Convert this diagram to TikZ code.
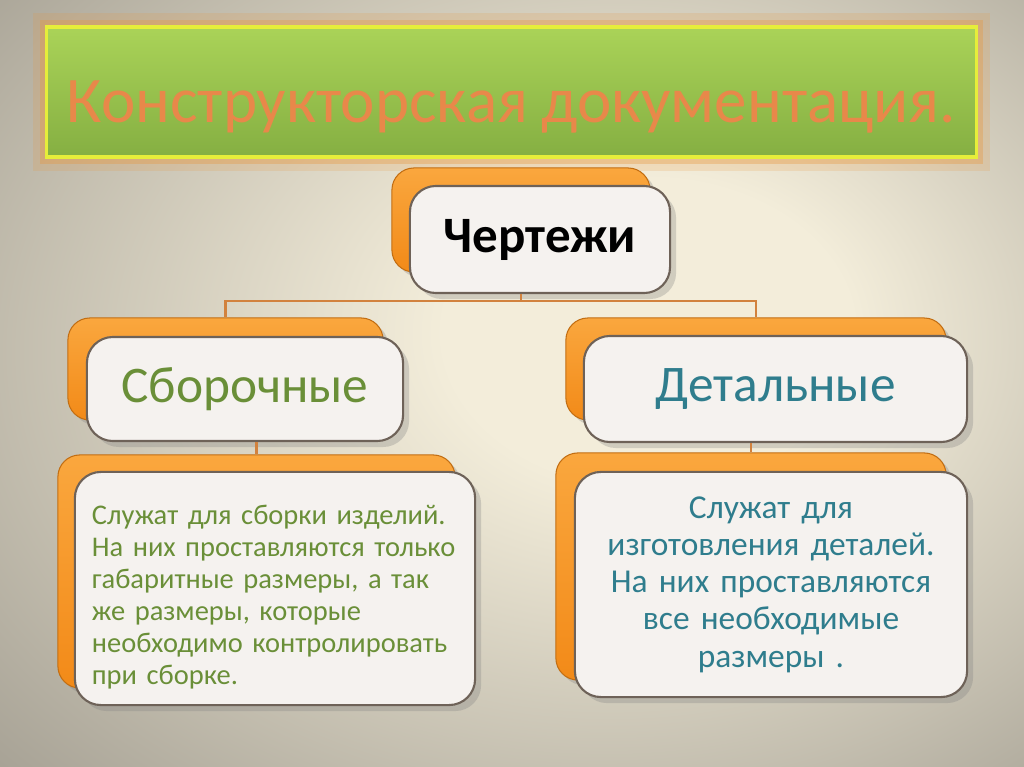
\documentclass[tikz,border=0pt]{standalone}
\usepackage{fontspec}
\setmainfont{Carlito}
\usetikzlibrary{positioning, calc, shadows}

\newcommand\tightsp{\spaceskip=.21em plus .1em minus .05em\relax}

\definecolor{bgin}{HTML}{F3EDDA}
\definecolor{bgout}{HTML}{9E998D}
\definecolor{titletop}{HTML}{AAD358}
\definecolor{titlebot}{HTML}{85AF42}
\definecolor{titleline}{HTML}{E6EE3A}
\definecolor{titleglow}{HTML}{E8963C}
\definecolor{titletext}{HTML}{E8884A}
\definecolor{backtop}{HTML}{FAA73E}
\definecolor{backbot}{HTML}{F28A18}
\definecolor{frontfill}{HTML}{F5F2EF}
\definecolor{frontline}{HTML}{6E6258}
\definecolor{asmgreen}{HTML}{6A8F38}
\definecolor{detteal}{HTML}{2F7D8D}
\definecolor{connline}{HTML}{D2823E}

\pgfdeclareradialshading{bgshade}{\pgfpoint{8bp}{4bp}}{%
  color(0bp)=(bgin); color(10bp)=(bgin); color(28bp)=(bgin!45!bgout);
  color(42bp)=(bgout); color(60bp)=(bgout)}

\tikzset{
  titlebox/.style={draw=titleline, line width=1pt, top color=titletop,
    bottom color=titlebot, inner sep=0pt,
    preaction={draw=titleglow, line width=8pt, opacity=.18},
    preaction={draw=titleglow, line width=4pt, opacity=.35},
    font=\fontsize{18.5}{22}\selectfont\tightsp, text=titletext},
  backbox/.style={rounded corners=2.2mm, top color=backtop, bottom color=backbot,
    draw=backbot!80!black, line width=.3pt, inner sep=0pt,
    drop shadow={shadow xshift=.5mm, shadow yshift=-.5mm, opacity=.3}},
  frontbox/.style={rounded corners=2.6mm, fill=frontfill, draw=frontline,
    line width=.6pt, inner sep=0pt,
    drop shadow={shadow xshift=.6mm, shadow yshift=-.6mm, opacity=.3}},
  conn/.style={draw=connline, line width=.7pt}
}

\begin{document}
\begin{tikzpicture}[x=0.01cm, y=-0.01cm]
  % фон
  \shade[shading=bgshade] (0,0) rectangle (1024,767);
  \useasboundingbox (0,0) rectangle (1024,767);

  % заголовок
  \node[titlebox, minimum width=9.29cm, minimum height=1.30cm] (title) at (511.5,92)
    {\raisebox{-3mm}[0pt][0pt]{Конструкторская документация.}};

  % чертежи
  \node[backbox, minimum width=2.58cm, minimum height=1.04cm] (chertback) at (521,220) {};
  \node[frontbox, minimum width=2.60cm, minimum height=1.07cm,
        font=\fontsize{14.5}{17}\selectfont\bfseries] (chert) at (540,239.5) {Чертежи};

  % сборочные
  \node[backbox, minimum width=3.15cm, minimum height=1.02cm] (asmback) at (225.5,369) {};
  \node[frontbox, minimum width=3.16cm, minimum height=1.04cm, text=asmgreen,
        font=\fontsize{14.6}{18}\selectfont] (asm) at (245,389) {Сборочные};

  % детальные
  \node[backbox, minimum width=3.80cm, minimum height=1.02cm] (detback) at (756,369) {};
  \node[frontbox, minimum width=3.83cm, minimum height=1.06cm, text=detteal,
        font=\fontsize{14.6}{18}\selectfont] (det) at (775.5,389) {Детальные};

  % описания
  \node[backbox, minimum width=3.97cm, minimum height=2.33cm] (asmdescback) at (256.5,571.5) {};
  \node[frontbox, minimum width=4.00cm, minimum height=2.33cm, text width=3.66cm,
        inner xsep=.17cm, align=left, text=asmgreen,
        font=\fontsize{8.1}{9.1}\selectfont\tightsp] (asmdesc) at (275,588.5) {%
    \rule{0pt}{10.5pt}Служат для сборки изделий.\\
    На них проставляются только\\
    габаритные размеры, а так\\
    же размеры, которые\\
    необходимо контролировать\\
    при сборке.};

  \node[backbox, minimum width=3.90cm, minimum height=2.27cm] (detdescback) at (751,566.5) {};
  \node[frontbox, minimum width=3.92cm, minimum height=2.25cm, text width=3.7cm,
        align=center, text=detteal,
        font=\fontsize{9.5}{10.6}\selectfont\tightsp] (detdesc) at (771,584.5) {%
    Служат для\\
    изготовления деталей.\\
    На них проставляются\\
    все необходимые\\
    размеры .};

  % связи
  \draw[conn] (chertback.center |- chert.south) -- ++(0,7) coordinate (hub);
  \draw[conn] (asmback.north) |- (hub) -| (detback.north);
  \draw[conn] (asmdescback.north |- asm.south) -- (asmdescback.north);
  \draw[conn] (detdescback.north |- det.south) -- (detdescback.north);
\end{tikzpicture}
\end{document}
